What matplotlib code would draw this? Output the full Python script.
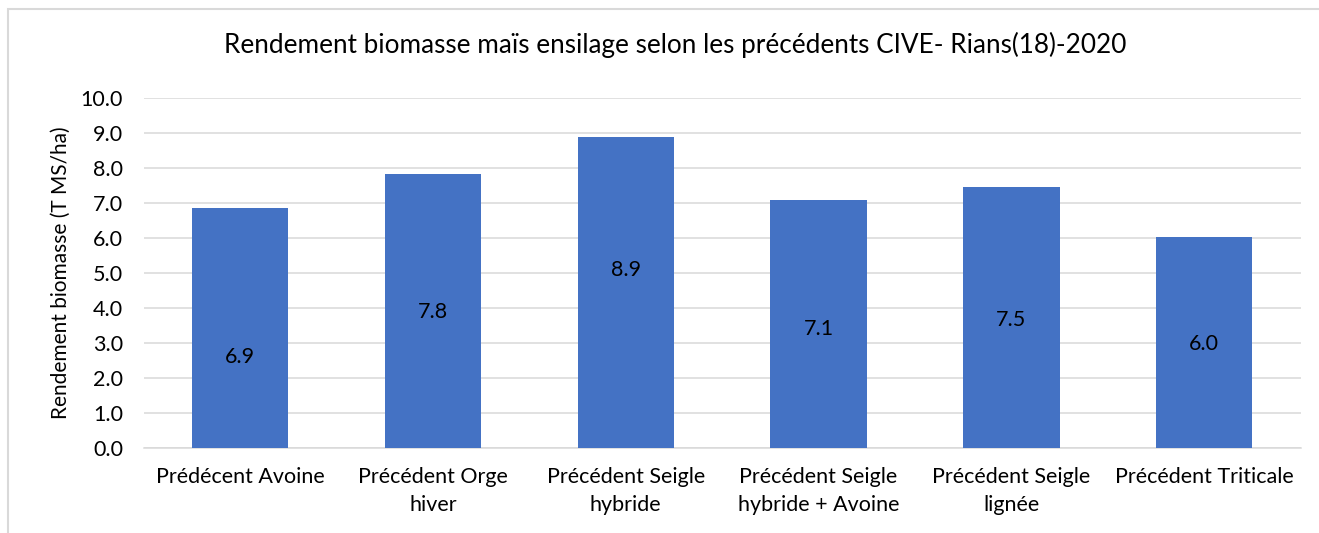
import matplotlib.pyplot as plt
from matplotlib.patches import Rectangle

# Données
categories = ['Prédécent Avoine', 'Précédent Orge\nhiver', 'Précédent Seigle\nhybride',
              'Précédent Seigle\nhybride + Avoine', 'Précédent Seigle\nlignée', 'Précédent Triticale']
rendement = [6.87, 7.83, 8.90, 7.09, 7.46, 6.03]
# position verticale des étiquettes (placées à la main dans l'original)
label_pos = [2.6, 3.9, 5.1, 3.4, 3.65, 2.97]

plt.rcParams['font.family'] = ['Lato', 'DejaVu Sans']

fig = plt.figure(figsize=(13.19, 5.33), dpi=100)
ax = fig.add_axes([0.109, 0.1595, 0.877, 0.6565])

x = range(len(categories))
ax.bar(x, rendement, width=0.5, color='#4472C4', zorder=3)
for i, v in enumerate(rendement):
    ax.text(i, label_pos[i], f'{v:.1f}', ha='center', va='center', fontsize=15.5, color='black', zorder=4)

ax.set_xlim(-0.5, len(categories) - 0.5)
ax.set_ylim(0, 10)
ax.set_yticks([i for i in range(11)])
ax.set_yticklabels([f'{i:.1f}' for i in range(11)], fontsize=15.5)
ax.set_xticks(list(x))
ax.set_xticklabels(categories, fontsize=15.5, linespacing=1.45)
ax.tick_params(axis='y', length=0, pad=15)
ax.tick_params(axis='x', length=0, pad=14)
ax.grid(axis='y', color='#d9d9d9', linewidth=1.1, zorder=0)
for s in ['top', 'right', 'left']:
    ax.spines[s].set_visible(False)
ax.spines['bottom'].set_color('#d9d9d9')
ax.spines['bottom'].set_linewidth(1.1)

ax.set_ylabel('Rendement biomasse (T MS/ha)', fontsize=15, labelpad=7)
fig.text(0.512, 0.915, 'Rendement biomasse maïs ensilage selon les précédents CIVE- Rians(18)-2020',
         ha='center', va='center', fontsize=18.8)

# cadre du graphique
fig.patches.append(Rectangle((8 / 1319, -0.1), 1.2, 1.0832, transform=fig.transFigure,
                             fill=False, edgecolor='#d9d9d9', linewidth=1.5))

plt.savefig('out.png', dpi=100)
plt.close()
